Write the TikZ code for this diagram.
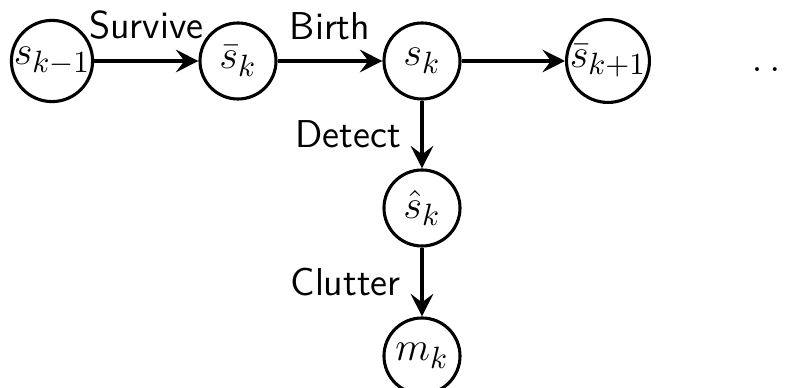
\documentclass[tikz,border=0pt]{standalone}
\usetikzlibrary{arrows.meta}
\begin{document}
\begin{tikzpicture}[x=0.0125cm,y=-0.0125cm,
  state/.style={circle,draw,line width=1.1pt,minimum size=0.95cm,inner sep=0pt,
    font=\fontsize{15}{18}\selectfont},
  flow/.style={line width=1.1pt,-{Stealth[length=8pt,width=8pt,inset=3pt]}},
  lbl/.style={font=\fontsize{13.8}{16}\selectfont\sffamily,inner sep=2pt}]
  \useasboundingbox (0,0) rectangle (786,388);
  \node[state] (a) at (52,61) {$s_{k-1}$};
  \node[state] (b) at (238,61) {$\bar{s}_k$};
  \node[state] (c) at (422,61) {$s_k$};
  \node[state] (d) at (608,61) {$\bar{s}_{k+1}$};
  \node[font=\fontsize{15}{18}\selectfont,inner sep=0pt] (dots) at (775,70) {$\dots$};
  \node[state] (e) at (422,208) {$\hat{s}_k$};
  \node[state] (f) at (422,356) {$m_k$};
  \draw[flow] (a) -- node[lbl,above=5pt] {Survive} (b);
  \draw[flow] (b) -- node[lbl,above=5pt] {Birth} (c);
  \draw[flow] (c) -- (d);
  \draw[flow] (c) -- node[lbl,left=5pt] {Detect} (e);
  \draw[flow] (e) -- node[lbl,left=5pt] {Clutter} (f);
\end{tikzpicture}
\end{document}
